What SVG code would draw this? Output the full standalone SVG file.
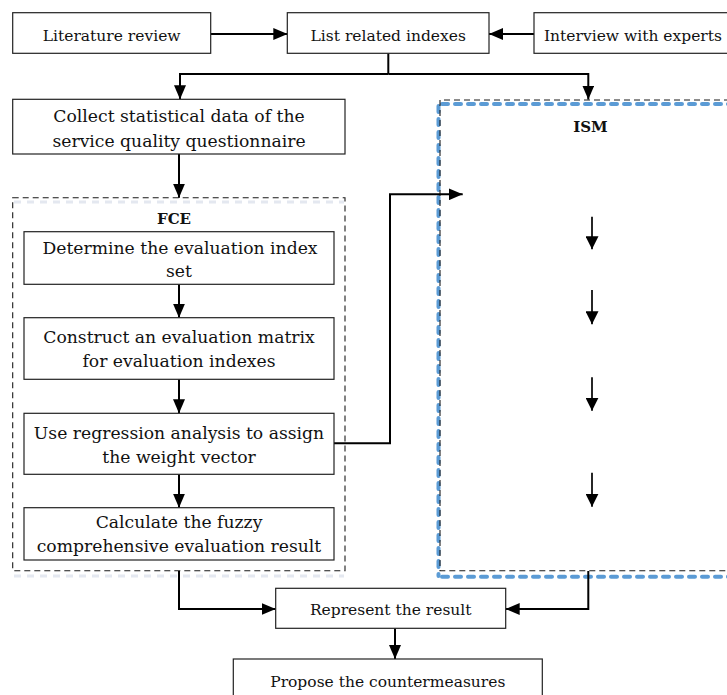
<svg xmlns="http://www.w3.org/2000/svg" width="727" height="695" viewBox="0 0 727 695">
<defs>
<marker id="ah" viewBox="0 0 14 12" refX="14" refY="6" markerWidth="14" markerHeight="12" markerUnits="userSpaceOnUse" orient="auto">
<path d="M0,0 L14,6 L0,12 Z" fill="#000"/>
</marker>
<marker id="ahs" viewBox="0 0 13 13" refX="13" refY="6.5" markerWidth="13" markerHeight="13" markerUnits="userSpaceOnUse" orient="auto">
<path d="M0,0 L13,6.5 L0,13 Z" fill="#000"/>
</marker>
<style>
.box{fill:#fff;stroke:#222;stroke-width:1.2}
.t{font-family:"DejaVu Serif","Liberation Serif",serif;font-size:15.5px;text-anchor:middle;fill:#111}
.t2{font-family:"DejaVu Serif","Liberation Serif",serif;font-size:17.2px;text-anchor:middle;fill:#111}
.lbl{font-family:"DejaVu Serif","Liberation Serif",serif;font-size:15px;font-weight:bold;text-anchor:middle;fill:#111}
.c{fill:none;stroke:#000;stroke-width:2}
.cs{fill:none;stroke:#000;stroke-width:1.7}
.dash{fill:none;stroke:#1a1a1a;stroke-width:1.1;stroke-dasharray:6 4}
.blue{fill:none;stroke:#5B9BD5;stroke-width:4;stroke-linecap:round;stroke-dasharray:6 7}
.ghost{fill:none;stroke:#e4e8f0;stroke-width:3;stroke-dasharray:7 6}
</style>
</defs>
<rect width="727" height="695" fill="#fff"/>

<g id="fce-group">
<line class="ghost" x1="14" y1="202" x2="344" y2="202"/>
<line class="ghost" x1="14" y1="576" x2="344" y2="576"/>
<rect class="dash" x="12.7" y="197.7" width="332.3" height="373"/>
<text class="lbl" x="174" y="224">FCE</text>
</g>

<g id="ism-group">
<path class="blue" d="M442,104 H730"/>
<path class="blue" d="M438.5,106 V576"/>
<path class="blue" d="M442,576.7 H730"/>
<path class="dash" d="M730,100 H440 V570.7 H730"/>
<text class="lbl" x="590.5" y="131.5">ISM</text>
</g>

<g id="connectors">
<line class="c" x1="210.7" y1="34" x2="287.3" y2="34" marker-end="url(#ah)"/>
<line class="c" x1="534" y1="34" x2="489" y2="34" marker-end="url(#ah)"/>
<path class="c" d="M388.3,53.3 V74"/>
<path class="c" d="M388.3,74 H180 V99.3" marker-end="url(#ah)"/>
<path class="c" d="M388.3,74 H588.3 V99.5" marker-end="url(#ah)"/>
<line class="c" x1="179" y1="154" x2="179" y2="197.7" marker-end="url(#ah)"/>
<line class="c" x1="179" y1="284.3" x2="179" y2="317.7" marker-end="url(#ah)"/>
<line class="c" x1="179" y1="379.3" x2="179" y2="413.3" marker-end="url(#ah)"/>
<line class="c" x1="179" y1="474.3" x2="179" y2="507.7" marker-end="url(#ah)"/>
<path class="c" d="M334,443.3 H390 V194.3 H462.7" marker-end="url(#ah)"/>
<line class="cs" x1="592" y1="216.7" x2="592" y2="249.3" marker-end="url(#ahs)"/>
<line class="cs" x1="592" y1="290" x2="592" y2="324.3" marker-end="url(#ahs)"/>
<line class="cs" x1="592" y1="377.3" x2="592" y2="410.7" marker-end="url(#ahs)"/>
<line class="cs" x1="592" y1="472.7" x2="592" y2="506.7" marker-end="url(#ahs)"/>
<path class="c" d="M179,571 V609 H275.7" marker-end="url(#ah)"/>
<path class="c" d="M588.3,571 V609 H505.7" marker-end="url(#ah)"/>
<line class="c" x1="395" y1="628.3" x2="395" y2="659" marker-end="url(#ah)"/>
</g>

<g id="literature-review">
<rect class="box" x="12.7" y="12.7" width="198" height="40.6"/>
<text class="t" x="111.7" y="40.5">Literature review</text>
</g>
<g id="list-related-indexes">
<rect class="box" x="287.3" y="12.7" width="201.7" height="40.6"/>
<text class="t" x="388.2" y="40.5">List related indexes</text>
</g>
<g id="interview-with-experts">
<rect class="box" x="534" y="12.7" width="200" height="40.6"/>
<text class="t" x="544" y="40.5" style="text-anchor:start">Interview with experts</text>
</g>
<g id="collect-data">
<rect class="box" x="12.7" y="99.3" width="332.3" height="54.7"/>
<text class="t2" x="179" y="121.7">Collect statistical data of the</text>
<text class="t2" x="179" y="146.5">service quality questionnaire</text>
</g>
<g id="determine-index-set">
<rect class="box" x="24" y="231.7" width="310" height="52.6"/>
<text class="t2" x="180" y="253.5">Determine the evaluation index</text>
<text class="t2" x="179" y="277">set</text>
</g>
<g id="construct-matrix">
<rect class="box" x="24" y="317.7" width="310" height="61.6"/>
<text class="t2" x="179" y="343.3">Construct an evaluation matrix</text>
<text class="t2" x="179" y="366.7">for evaluation indexes</text>
</g>
<g id="regression-weight">
<rect class="box" x="24" y="413.3" width="310" height="61"/>
<text class="t2" x="179" y="439.3">Use regression analysis to assign</text>
<text class="t2" x="179" y="462.7">the weight vector</text>
</g>
<g id="calculate-fce">
<rect class="box" x="24" y="507.7" width="310" height="52.3"/>
<text class="t2" x="179" y="528.3">Calculate the fuzzy</text>
<text class="t2" x="179" y="552.3">comprehensive evaluation result</text>
</g>
<g id="represent-result">
<rect class="box" x="275.7" y="588.3" width="230" height="40"/>
<text class="t" x="390.7" y="615">Represent the result</text>
</g>
<g id="propose-countermeasures">
<rect class="box" x="233.3" y="659" width="309" height="45"/>
<text class="t" x="387.8" y="687.3">Propose the countermeasures</text>
</g>
</svg>
